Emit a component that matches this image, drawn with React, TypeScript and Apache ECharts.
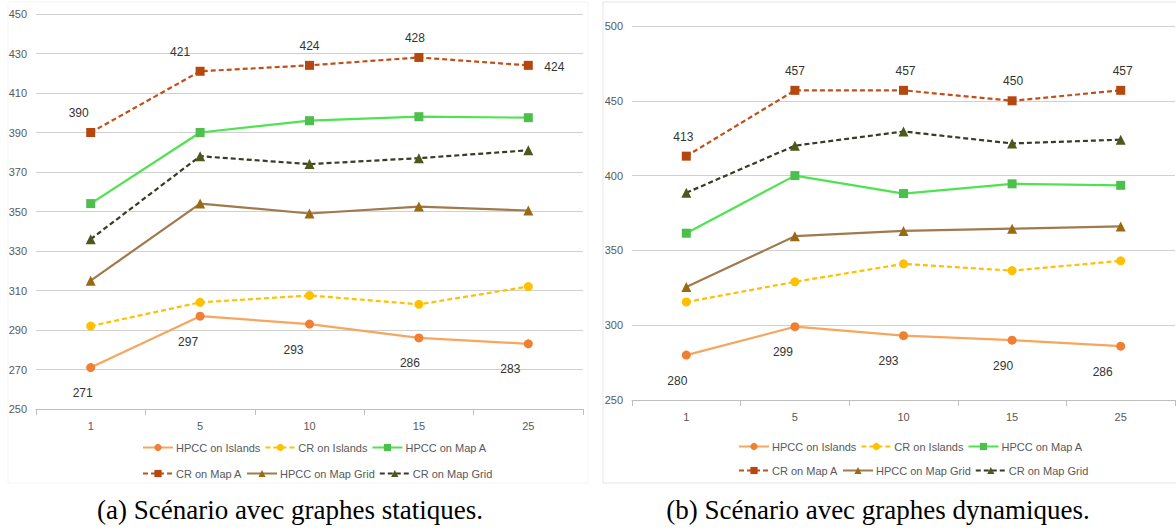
import React, { useEffect, useRef } from "react";
import * as echarts from "echarts";

const categories = ["1", "5", "10", "15", "25"];
const seriesNames = [
  "HPCC on Islands",
  "CR on Islands",
  "HPCC on Map A",
  "CR on Map A",
  "HPCC on Map Grid",
  "CR on Map Grid",
];

// (a) static graphs
const aHpccIslands = [271, 297, 293, 286, 283];
const aCrIslands = [292, 304, 307.5, 303, 312];
const aHpccMapA = [354, 390, 396, 398, 397.5];
const aCrMapA = [390, 421, 424, 428, 424];
const aHpccMapGrid = [315, 354, 349, 352.5, 350.5];
const aCrMapGrid = [336, 378, 374, 377, 381];

// (b) dynamic graphs
const bHpccIslands = [280, 299, 293, 290, 286];
const bCrIslands = [315.5, 329, 341, 336.5, 343];
const bHpccMapA = [361.5, 400, 388, 394.5, 393.5];
const bCrMapA = [413, 457, 457, 450, 457];
const bHpccMapGrid = [325.5, 359.5, 363, 364.5, 366];
const bCrMapGrid = [388.5, 420, 429.5, 421.5, 424];

// label offsets (layout only)
const aTopOffsets = [[-12, 0], [-20, 0], [0, 0], [-4, 0], [26, 21]];
const aBottomOffsets = [[-8, 0], [-12, 0], [-16, 0], [-9, 0], [-18, 0]];
const bTopOffsets = [[-3, 0], [0, 0], [2, 0], [1, 0], [2, 0]];
const bBottomOffsets = [[-9, 0], [-12, 0], [-15, 0], [-9, 0], [-18, 0]];

const styles = [
  { line: "#F6A65E", marker: "#EE7F33", dashed: false, symbol: "circle" },
  { line: "#FFC000", marker: "#FFC000", dashed: true, symbol: "circle" },
  { line: "#4FE34F", marker: "#4CBF4C", dashed: false, symbol: "rect" },
  { line: "#C0501A", marker: "#B5470F", dashed: true, symbol: "rect" },
  { line: "#A07A4C", marker: "#9A6A12", dashed: false, symbol: "triangle" },
  { line: "#3A3A26", marker: "#4B5A1C", dashed: true, symbol: "triangle" },
];

const FONT = "'Liberation Sans Narrow', 'Liberation Sans', sans-serif";

function buildSeries(
  idx: number,
  datasets: number[][],
  topOffsets: number[][],
  bottomOffsets: number[][]
) {
  return datasets.map((d, i) => {
    const s = styles[i];
    const data = d.map((v, j) => {
      const item: any = { value: v };
      if (i === 3) {
        item.label = {
          show: true,
          position: "top",
          distance: 9,
          offset: topOffsets[j],
        };
      } else if (i === 0) {
        item.label = {
          show: true,
          position: "bottom",
          distance: 15,
          offset: bottomOffsets[j],
        };
      }
      return item;
    });
    return {
      type: "line",
      name: seriesNames[i],
      xAxisIndex: idx,
      yAxisIndex: idx,
      data,
      symbol: s.symbol,
      symbolSize: s.symbol === "triangle" ? 10 : 9,
      lineStyle: {
        color: s.line,
        width: 2.2,
        type: s.dashed ? [5, 3] : "solid",
      },
      itemStyle: { color: s.marker },
      label: {
        show: false,
        color: "#333",
        fontSize: 12,
        fontFamily: FONT,
        formatter: (p: any) => String(Math.round(p.value)),
      },
      emphasis: { disabled: true },
      z: 3,
    };
  });
}

function legend(left: number, top: number, names: string[]) {
  return {
    left,
    top,
    orient: "horizontal",
    data: names,
    itemWidth: 30,
    itemHeight: 9,
    itemGap: 4,
    selectedMode: false,
    textStyle: {
      color: "#595959",
      fontSize: 11,
      fontFamily: FONT,
      width: 72,
      padding: [0, 0, 0, -2],
    },
  };
}

function xAxis(gridIndex: number) {
  return {
    type: "category",
    gridIndex,
    data: categories,
    boundaryGap: true,
    axisLine: { lineStyle: { color: "#BFBFBF", width: 1 } },
    axisTick: { show: true, alignWithLabel: false, length: 6, lineStyle: { color: "#BFBFBF" } },
    axisLabel: { color: "#595959", fontSize: 11, fontFamily: FONT, margin: 11 },
    splitLine: { show: false },
  };
}

function yAxis(gridIndex: number, min: number, max: number, interval: number) {
  return {
    type: "value",
    gridIndex,
    min,
    max,
    interval,
    axisLine: { show: false },
    axisTick: { show: false },
    axisLabel: { color: "#595959", fontSize: 11, fontFamily: FONT, margin: 9 },
    splitLine: { lineStyle: { color: "#D0D0D0", width: 1 } },
  };
}

export default function App() {
  const ref = useRef<HTMLDivElement>(null);
  useEffect(() => {
    if (!ref.current) return;
    const chart = echarts.init(ref.current, undefined, { renderer: "svg" });
    const option: any = {
      animation: false,
      backgroundColor: "#ffffff",
      grid: [
        { left: 36, top: 14, width: 547, height: 395 },
        { left: 632, top: 26, width: 543, height: 374 },
      ],
      xAxis: [xAxis(0), xAxis(1)],
      yAxis: [yAxis(0, 250, 450, 20), yAxis(1, 250, 500, 50)],
      legend: [
        legend(137, 437, seriesNames.slice(0, 3)),
        legend(137, 463, seriesNames.slice(3, 6)),
        legend(733, 436, seriesNames.slice(0, 3)),
        legend(733, 460, seriesNames.slice(3, 6)),
      ],
      graphic: [
        {
          type: "rect",
          shape: { x: 8, y: 2, width: 580, height: 481 },
          style: { fill: "none", stroke: "#F5F5F5", lineWidth: 1 },
          silent: true,
          z: -1,
        },
        {
          type: "rect",
          shape: { x: 603, y: 2, width: 580, height: 481 },
          style: { fill: "none", stroke: "#E6E6E6", lineWidth: 1 },
          silent: true,
          z: -1,
        },
        {
          type: "text",
          x: 290,
          y: 510,
          style: {
            text: "(a) Scénario avec graphes statiques.",
            font: "27px 'Liberation Serif', 'Times New Roman', serif",
            fill: "#000",
            textAlign: "center",
            textVerticalAlign: "middle",
          },
        },
        {
          type: "text",
          x: 878,
          y: 510,
          style: {
            text: "(b) Scénario avec graphes dynamiques.",
            font: "27px 'Liberation Serif', 'Times New Roman', serif",
            fill: "#000",
            textAlign: "center",
            textVerticalAlign: "middle",
          },
        },
      ],
      series: [
        ...buildSeries(
          0,
          [aHpccIslands, aCrIslands, aHpccMapA, aCrMapA, aHpccMapGrid, aCrMapGrid],
          aTopOffsets,
          aBottomOffsets
        ),
        ...buildSeries(
          1,
          [bHpccIslands, bCrIslands, bHpccMapA, bCrMapA, bHpccMapGrid, bCrMapGrid],
          bTopOffsets,
          bBottomOffsets
        ),
      ],
    };
    chart.setOption(option);
    return () => chart.dispose();
  }, []);
  return (
    <div
      ref={ref}
      style={{ position: "fixed", left: 0, top: 0, width: 1176, height: 530 }}
    />
  );
}
